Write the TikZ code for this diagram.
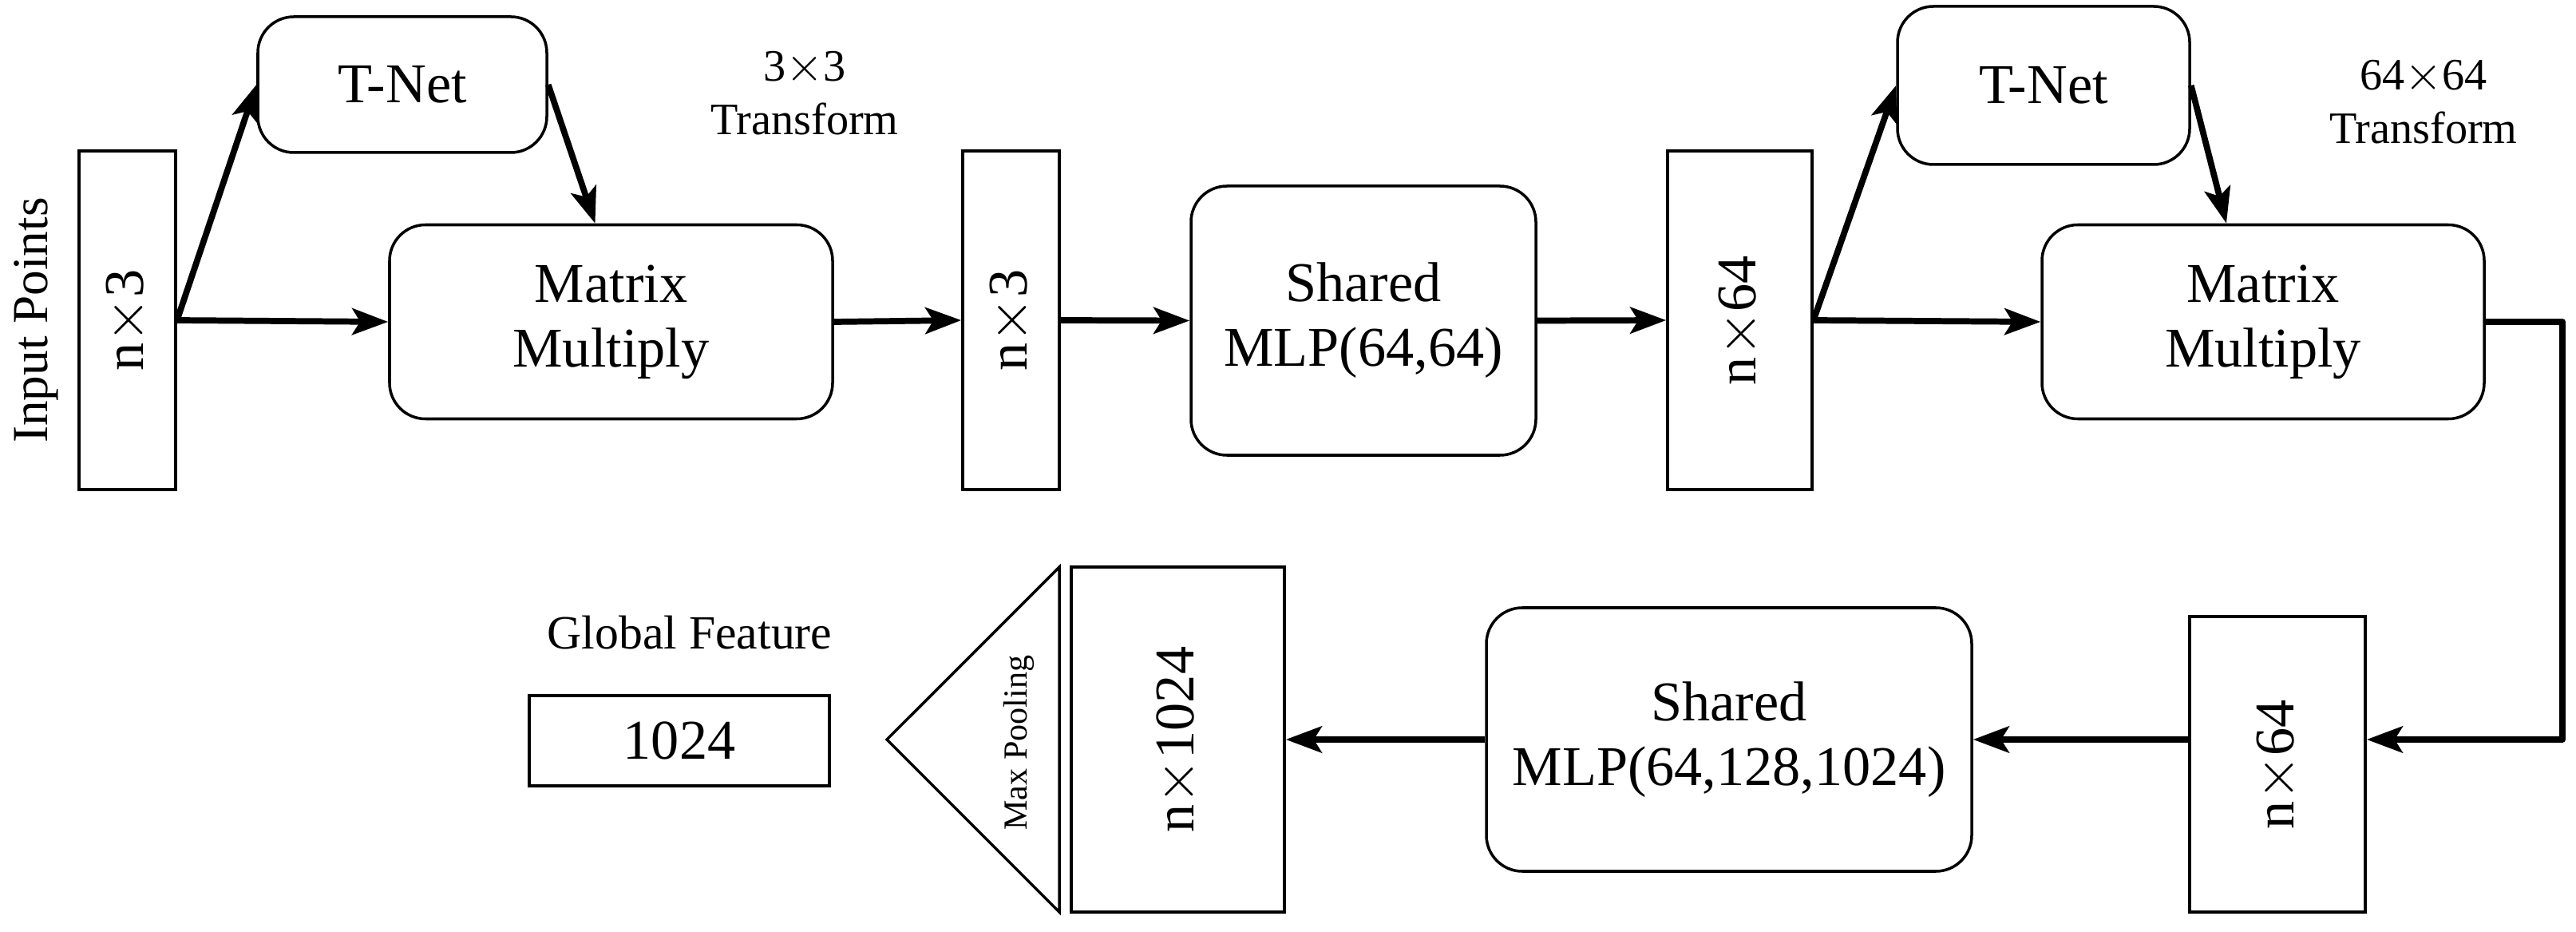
\documentclass[tikz,border=0pt]{standalone}
\usepackage{fontspec}
\setmainfont{Liberation Serif}
\usetikzlibrary{arrows.meta,positioning,calc}

\begin{document}
\begin{tikzpicture}[
    box/.style={rectangle, draw, line width=1pt, rounded corners=0.45cm, align=center, font=\fontsize{20}{23}\selectfont},
    feat/.style={rectangle, draw, line width=1pt, font=\fontsize{20}{23}\selectfont},
    lbl/.style={align=center, font=\fontsize{16}{19}\selectfont},
    arrow/.style={-{Stealth[length=0.45cm,width=0.33cm,inset=0.1cm]}, line width=2.2pt}
]
\useasboundingbox (0,0) rectangle (32.27,-11.67);

% Top row
\node[feat, minimum width=1.21cm, minimum height=4.24cm] (inp) at (1.595,-4.01) {};
\node[rotate=90, font=\fontsize{20}{23}\selectfont] at (inp) {n$\times$3};
\node[rotate=90, font=\fontsize{18}{21}\selectfont] (inplbl) at (0.45,-4.01) {Input Points};

\node[box, minimum width=3.62cm, minimum height=1.70cm] (tnet1) at (5.04,-1.06) {T-Net};
\node[box, minimum width=5.55cm, minimum height=2.43cm] (mm1) at (7.655,-4.03) {Matrix\\Multiply};
\node[lbl] (tf1) at (10.08,-1.17) {3$\times$3\\Transform};

\node[feat, minimum width=1.21cm, minimum height=4.24cm] (r2) at (12.665,-4.01) {};
\node[rotate=90, font=\fontsize{20}{23}\selectfont] at (r2) {n$\times$3};

\node[box, minimum width=4.32cm, minimum height=3.37cm] (mlp1) at (17.08,-4.015) {Shared\\MLP(64,64)};

\node[feat, minimum width=1.81cm, minimum height=4.24cm] (r3) at (21.795,-4.01) {};
\node[rotate=90, font=\fontsize{20}{23}\selectfont] at (r3) {n$\times$64};

\node[box, minimum width=3.66cm, minimum height=1.98cm] (tnet2) at (25.60,-1.07) {T-Net};
\node[box, minimum width=5.54cm, minimum height=2.43cm] (mm2) at (28.35,-4.03) {Matrix\\Multiply};
\node[lbl] (tf2) at (30.36,-1.28) {64$\times$64\\Transform};

% Bottom row
\node[feat, minimum width=2.20cm, minimum height=3.70cm] (r4) at (28.53,-9.57) {};
\node[rotate=90, font=\fontsize{20}{23}\selectfont] at (r4) {n$\times$64};

\node[box, minimum width=6.08cm, minimum height=3.30cm] (mlp2) at (21.66,-9.26) {Shared\\MLP(64,128,1024)};

\node[feat, minimum width=2.67cm, minimum height=4.32cm] (r5) at (14.755,-9.26) {};
\node[rotate=90, font=\fontsize{20}{23}\selectfont] at (r5) {n$\times$1024};

\draw[line width=1pt] (13.27,-7.10) -- (11.11,-9.26) -- (13.27,-11.42) -- cycle;
\node[rotate=90, font=\fontsize{12}{14}\selectfont] (maxpool) at (12.76,-9.30) {Max Pooling};

\node[feat, minimum width=3.76cm, minimum height=1.13cm] (glob) at (8.51,-9.275) {1024};
\node[font=\fontsize{17}{20}\selectfont] (globlbl) at (8.64,-7.92) {Global Feature};

% Arrows
\draw[arrow] (inp.east) -- (mm1.west);
\draw[arrow] (inp.east) -- (tnet1.west);
\draw[arrow] (tnet1.east) -- ([xshift=-0.2cm]mm1.north);
\draw[arrow] (mm1.east) -- (r2.west);
\draw[arrow] (r2.east) -- (mlp1.west);
\draw[arrow] (mlp1.east) -- (r3.west);
\draw[arrow] (r3.east) -- (mm2.west);
\draw[arrow] (r3.east) -- (tnet2.west);
\draw[arrow] (tnet2.east) -- ([xshift=-0.46cm]mm2.north);
\coordinate (turn) at (32.10,-4.03);
\draw[arrow, line join=round] (mm2.east) -- (turn) |- (r4.east |- mlp2.east);
\draw[arrow] (r4.west |- mlp2.east) -- (mlp2.east);
\draw[arrow] (mlp2.west) -- (r5.east);

\end{tikzpicture}
\end{document}
